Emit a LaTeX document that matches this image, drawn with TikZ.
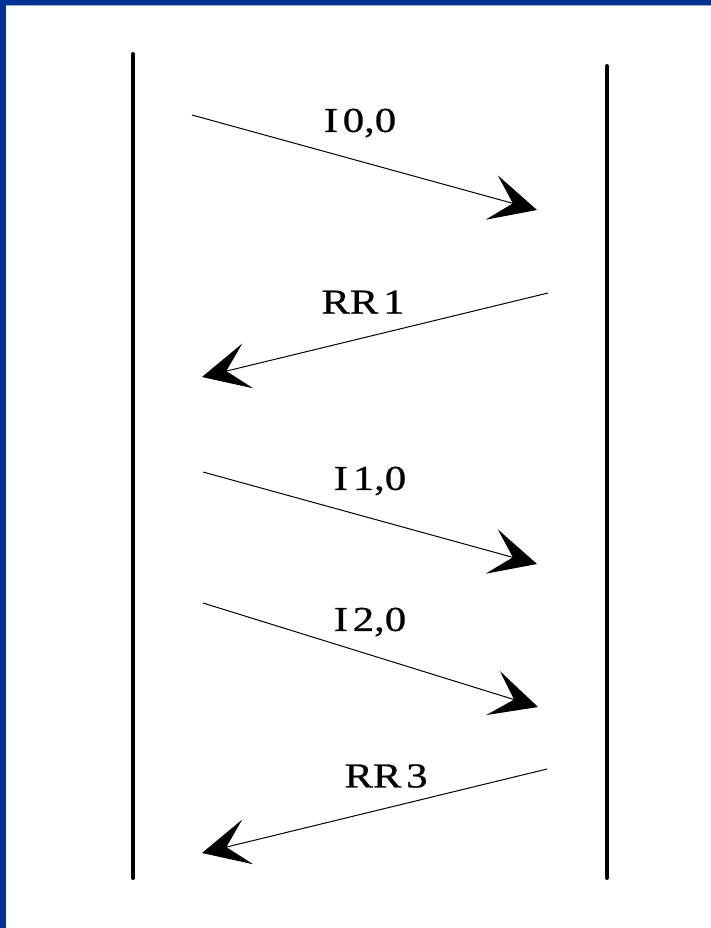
\documentclass[tikz,border=0pt]{standalone}
\usepackage{fontspec}
\setmainfont{Liberation Serif}
\newfontfamily\lblfont[FakeStretch=1.22, FakeBold=0.7, WordSpace=0.45]{Liberation Serif}
\usetikzlibrary{arrows.meta}
\definecolor{frameblue}{RGB}{0,50,146}
\tikzset{
  lifeline/.style={line width=4pt, line cap=round},
  msg/.style={line width=1pt, -{Stealth[length=47pt, width=46pt, inset=22pt]}},
  lbl/.style={inner sep=0pt, font=\lblfont\fontsize{35}{35}\selectfont}
}
\begin{document}
\begin{tikzpicture}[x=1pt,y=-1pt]
\useasboundingbox (0,0) rectangle (711,928);
\fill[white] (0,0) rectangle (711,928);
\fill[frameblue] (0,0) rectangle (711,5);
\fill[frameblue] (0,0) rectangle (5.5,928);
\draw[frameblue!40, line width=0.6pt] (5.5,5.6) -- (711,5.6);
% lifelines
\coordinate (Ltop) at (133,54);
\coordinate (Lbot) at (133,878);
\coordinate (Rtop) at (607,66);
\coordinate (Rbot) at (607,878);
\draw[lifeline] (Ltop) -- (Lbot);
\draw[lifeline] (Rtop) -- (Rbot);
% message endpoints
\coordinate (s1) at (192,115); \coordinate (e1) at (537,210);
\coordinate (s2) at (548,293); \coordinate (e2) at (202,377);
\coordinate (s3) at (203,472); \coordinate (e3) at (537,564);
\coordinate (s4) at (203,603); \coordinate (e4) at (538,707);
\coordinate (s5) at (547,769); \coordinate (e5) at (202,853);
\draw[msg] (s1) -- (e1);
\draw[msg] (s2) -- (e2);
\draw[msg] (s3) -- (e3);
\draw[msg] (s4) -- (e4);
\draw[msg] (s5) -- (e5);
% labels
\node[lbl] (l1) at (360,123) {I 0,0};
\node[lbl] (l2) at (363,302) {RR 1};
\node[lbl] (l3) at (370,481) {I 1,0};
\node[lbl] (l4) at (370,622) {I 2,0};
\node[lbl] (l5) at (386,776) {RR 3};
\end{tikzpicture}
\end{document}
